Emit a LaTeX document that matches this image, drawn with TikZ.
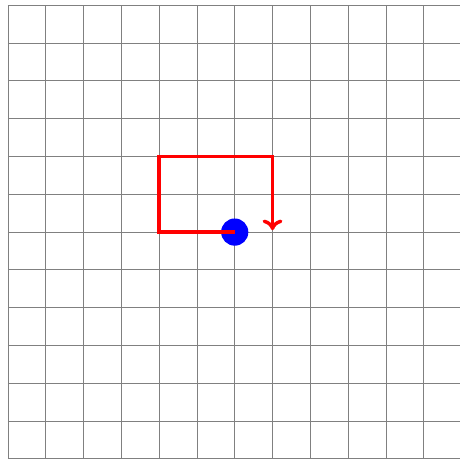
\documentclass[tikz,border=0pt]{standalone}
\usetikzlibrary{arrows.meta}
\begin{document}
\begin{tikzpicture}[
  gridline/.style={draw=gray, line width=0.6pt},
  dotstyle/.style={circle, fill=blue, minimum size=0.72cm, inner sep=0pt},
  redpath/.style={draw=red, line width=2.6pt, -{To[length=8pt,width=15pt]}}
]
\useasboundingbox (-6.21,-6.0) rectangle (5.96,6.14);
\clip (-6.21,-6.0) rectangle (5.96,6.14);
\draw[gridline] (-6,-6) grid (6,6);
\node[dotstyle] (dot) at (0,0) {};
\coordinate (c1) at (-2,0);
\coordinate (c2) at (-2,2);
\coordinate (c3) at (1,2);
\coordinate (c4) at (1,0.05);
\draw[redpath] (dot.center) -- (c1) -- (c2) -- (c3) -- (c4);
\end{tikzpicture}
\end{document}
